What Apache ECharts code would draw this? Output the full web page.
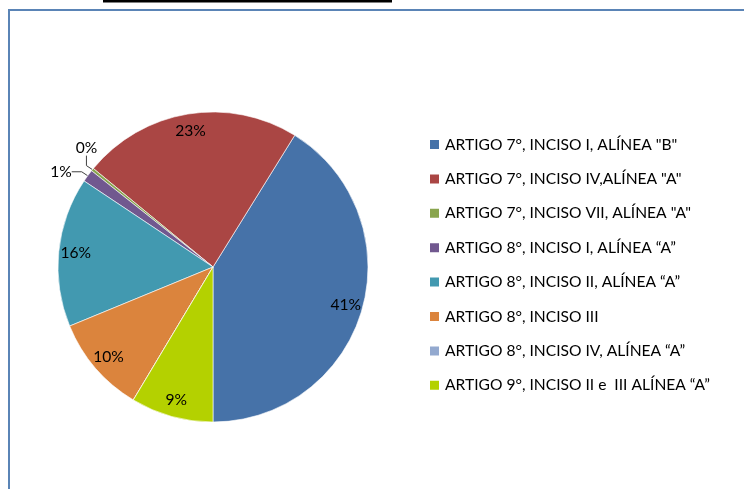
<!DOCTYPE html>
<html><head><meta charset="utf-8">
<script src="https://cdn.jsdelivr.net/npm/echarts@6/dist/echarts.min.js"></script>
<style>html,body{margin:0;padding:0;background:#fff}#c{width:744px;height:489px}</style>
</head><body><div id="c"></div>
<script>
var categories = [
  'ARTIGO 7°, INCISO I, ALÍNEA "B"',
  'ARTIGO 7°, INCISO IV,ALÍNEA "A"',
  'ARTIGO 7°, INCISO VII, ALÍNEA "A"',
  'ARTIGO 8°, INCISO I, ALÍNEA “A”',
  'ARTIGO 8°, INCISO II, ALÍNEA “A”',
  'ARTIGO 8°, INCISO III',
  'ARTIGO 8°, INCISO IV, ALÍNEA “A”',
  'ARTIGO 9°, INCISO II e  III ALÍNEA “A”'
];
var values = [41.2, 22.9, 0.3, 1.3, 15.6, 10.2, 0, 8.6];
var colors = ['#4672a8', '#aa4644', '#89a54e', '#71588f', '#4299b0', '#db843d', '#93a9cf', '#b4d100'];

var FONT = 'Lato';
var FS = 15.6;
var chart = echarts.init(document.getElementById('c'), null, {renderer: 'canvas'});

var mainData = categories.map(function (n, i) {
  return {name: n, value: values[i], itemStyle: {color: colors[i]}};
});
var labelData = categories.map(function (n, i) {
  var d = {name: n, value: values[i]};
  if (values[i] === 0) {
    d.label = {show: false};
  } else if (values[i] < 2) {
    d.label = {position: 'outside'};
    d.labelLine = {show: true, length: 6, length2: 10, lineStyle: {color: '#404040', width: 1}};
  }
  return d;
});

chart.setOption({
  animation: false,
  backgroundColor: '#fff',
  graphic: [
    {type: 'rect', shape: {x: 9, y: 10, width: 800, height: 600},
     style: {fill: 'none', stroke: '#5a84b6', lineWidth: 2}, silent: true},
    {type: 'rect', shape: {x: 103, y: 0, width: 289, height: 2.5},
     style: {fill: '#000'}, silent: true}
  ],
  legend: {
    orient: 'vertical',
    left: 428,
    top: 136,
    padding: 0,
    itemWidth: 11,
    itemHeight: 11,
    itemGap: 17.4,
    itemTextGap: 6,
    icon: 'rect',
    data: categories,
    textStyle: {fontFamily: FONT, fontSize: FS, color: '#000', lineHeight: 17, padding: 0},
    selectedMode: false
  },
  series: [
    {
      type: 'pie',
      center: [213, 267],
      radius: [0, 155],
      clockwise: false,
      startAngle: 270,
      silent: true,
      itemStyle: {borderColor: '#fff', borderWidth: 0.6},
      label: {show: false},
      labelLine: {show: false},
      data: mainData
    },
    {
      type: 'pie',
      center: [213, 267],
      radius: [115, 155],
      clockwise: false,
      startAngle: 270,
      silent: true,
      legendHoverLink: false,
      itemStyle: {color: 'rgba(0,0,0,0)', borderWidth: 0},
      label: {
        show: true,
        position: 'inside',
        fontFamily: FONT,
        fontSize: FS,
        color: '#000',
        formatter: function (p) { return Math.round(p.percent) + '%'; }
      },
      labelLine: {show: false},
      labelLayout: function (p) {
        var v = values[p.dataIndex];
        if (v > 0 && v < 2 && p.labelLinePoints) {
          var a = p.labelLinePoints[0];
          if (v < 1) {
            return {x: a[0] - 6, y: a[1] - 14, align: 'center', verticalAlign: 'bottom'};
          }
          return {x: a[0] - 16, y: a[1] - 4, align: 'right', verticalAlign: 'middle'};
        }
        return {};
      },
      data: labelData
    }
  ]
});
</script></body></html>
